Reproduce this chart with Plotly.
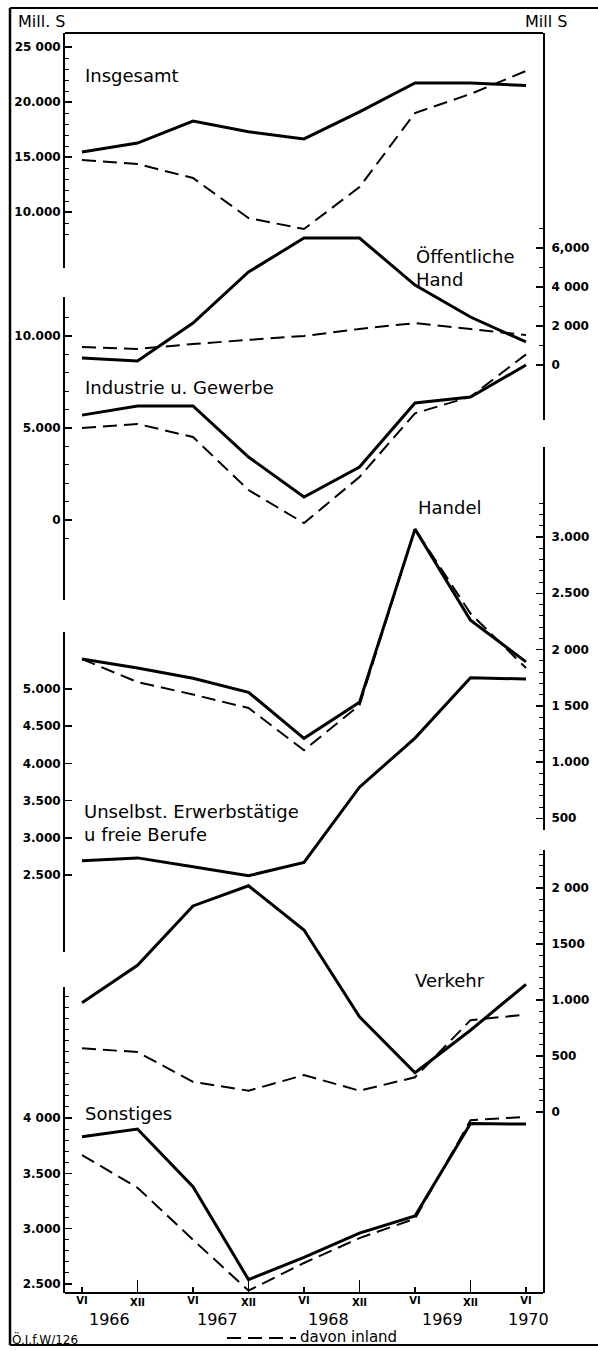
import plotly.graph_objects as go

# ---------------- data (Mill. S) ----------------
months = ["VI", "XII", "VI", "XII", "VI", "XII", "VI", "XII", "VI"]
years = ["1966", "1967", "1968", "1969", "1970"]
year_pos = [0.5, 2.45, 4.45, 6.5, 8.05]

insgesamt_total = [15450, 16270, 18270, 17300, 16640, 19100, 21730, 21730, 21500]
insgesamt_inland = [14730, 14360, 13090, 9450, 8450, 12270, 19000, 20730, 22820]

oeffentlich_total = [360, 205, 2150, 4770, 6510, 6510, 4100, 2460, 1180]
oeffentlich_inland = [920, 820, 1080, 1280, 1490, 1850, 2150, 1850, 1540]

industrie_total = [5700, 6200, 6200, 3420, 1250, 2880, 6360, 6680, 8420]
industrie_inland = [5000, 5220, 4510, 1630, -170, 2340, 5800, 6700, 9000]

handel_total = [1915, 1835, 1745, 1620, 1210, 1530, 3070, 2260, 1890]
handel_inland = [1915, 1710, 1600, 1480, 1105, 1505, 3070, 2320, 1835]

unselbst_total = [2690, 2730, 2610, 2490, 2670, 3680, 4340, 5150, 5135]

verkehr_total = [975, 1310, 1840, 2020, 1625, 850, 350, 730, 1140]
verkehr_inland = [570, 535, 270, 190, 330, 190, 310, 820, 870]

sonstiges_total = [3830, 3900, 3380, 2540, 2740, 2960, 3115, 3950, 3945]
sonstiges_inland = [3665, 3370, 2900, 2440, 2690, 2915, 3090, 3980, 4010]

xs = list(range(len(months)))

# ---------------- geometry ----------------
W, H = 598, 1351
L, R, T, B = 65, 543, 33, 1293


def px_x(px):
    return (px - L) / (R - L)


def px_y(py):
    return (B - py) / (B - T)


TICKFONT = dict(family="DejaVu Sans", size=12, color="black", weight="bold")


def yaxis_cfg(top, bot, cal, side, major, labels, minor, ticklen=7):
    (v1, p1), (v2, p2) = cal
    k = (v2 - v1) / (p2 - p1)

    def val(p):
        return v1 + (p - p1) * k

    cfg = dict(
        domain=[px_y(bot), px_y(top)],
        range=[val(bot), val(top)],
        side=side, anchor="x",
        showline=True, linecolor="black", linewidth=2,
        ticks="inside", ticklen=ticklen, tickwidth=1.5, tickcolor="black",
        tickmode="array", tickvals=major, ticktext=labels,
        minor=dict(tickmode="array", tickvals=minor, ticks="inside", ticklen=4,
                   tickcolor="black", tickwidth=1),
        showgrid=False, zeroline=False, fixedrange=True,
        tickfont=TICKFONT,
    )
    if side == "right":
        cfg["ticklabelstandoff"] = 4
    return cfg


fig = go.Figure()

SOLID = dict(color="black", width=3)
DASH = dict(color="black", width=2, dash="14px,7px")

panels = [
    ("y", insgesamt_total, insgesamt_inland),
    ("y2", oeffentlich_total, oeffentlich_inland),
    ("y3", industrie_total, industrie_inland),
    ("y4", handel_total, handel_inland),
    ("y5", unselbst_total, None),
    ("y6", verkehr_total, verkehr_inland),
    ("y7", sonstiges_total, sonstiges_inland),
]
for ax, tot, inl in panels:
    if inl is not None:
        fig.add_trace(go.Scatter(x=xs, y=inl, xaxis="x", yaxis=ax, mode="lines",
                                 line=DASH, showlegend=False, hoverinfo="skip"))
    fig.add_trace(go.Scatter(x=xs, y=tot, xaxis="x", yaxis=ax, mode="lines",
                             line=SOLID, showlegend=False, hoverinfo="skip"))

# dummy trace so the secondary x-axis (VI labels) is drawn
fig.add_trace(go.Scatter(x=[0], y=[15000], xaxis="x2", yaxis="y", mode="markers",
                         marker=dict(opacity=0), showlegend=False, hoverinfo="skip"))

xrange = [(L - 82) / 55.5, (R - 82) / 55.5]

layout_axes = dict(
    xaxis=dict(range=xrange, anchor="free", position=0, showline=True, linecolor="black",
               linewidth=2, ticks="inside", ticklen=12, tickwidth=1.5, tickcolor="black",
               tickmode="array", tickvals=[1, 3, 5, 7], ticktext=["XII"] * 4,
               showgrid=False, zeroline=False, fixedrange=True,
               tickfont=dict(family="DejaVu Sans", size=10, color="black", weight="bold")),
    xaxis2=dict(range=xrange, overlaying="x", anchor="free", position=0, showline=False,
                ticks="inside", ticklen=6, tickwidth=1.5, tickcolor="black",
                tickmode="array", tickvals=[0, 2, 4, 6, 8], ticktext=["VI"] * 5,
                showgrid=False, zeroline=False, fixedrange=True, side="bottom",
                tickfont=dict(family="DejaVu Sans", size=10, color="black", weight="bold")),
    yaxis=yaxis_cfg(33, 268, ((25000, 47), (10000, 212)), "left",
                    [25000, 20000, 15000, 10000], ["25 000", "20.000", "15.000", "10.000"],
                    list(range(8000, 26000, 1000))),
    yaxis2=yaxis_cfg(33, 420, ((6000, 248), (0, 365)), "right",
                     [6000, 4000, 2000, 0], ["6,000", "4 000", "2 000", "0"],
                     list(range(0, 8000, 1000))),
    yaxis3=yaxis_cfg(297, 600, ((10000, 336), (0, 520)), "left",
                     [10000, 5000, 0], ["10.000", "5.000", "0"],
                     list(range(-1000, 12000, 1000))),
    yaxis4=yaxis_cfg(447, 830, ((3000, 537), (1000, 762)), "right",
                     [3000, 2500, 2000, 1500, 1000, 500],
                     ["3.000", "2.500", "2 000", "1 500", "1.000", "500"],
                     list(range(500, 3400, 100))),
    yaxis5=yaxis_cfg(632, 952, ((5000, 689), (2500, 875)), "left",
                     [5000, 4500, 4000, 3500, 3000, 2500],
                     ["5.000", "4.500", "4.000", "3.500", "3.000", "2.500"], []),
    yaxis6=yaxis_cfg(850, 1293, ((2000, 888), (0, 1112)), "right",
                     [2000, 1500, 1000, 500, 0], ["2 000", "1500", "1.000", "500", "0"],
                     list(range(0, 2400, 100))),
    yaxis7=yaxis_cfg(987, 1293, ((4000, 1118), (2500, 1284)), "left",
                     [4000, 3500, 3000, 2500], ["4 000", "3.500", "3.000", "2.500"],
                     list(range(2500, 5200, 100))),
)


def note(text, x, y, size=18, xanchor="left", xref="paper", weight="normal"):
    return dict(text=text, x=x, y=y, xref=xref, yref="paper", showarrow=False,
                xanchor=xanchor, yanchor="middle", align="left", borderpad=0,
                font=dict(family="DejaVu Sans", size=size, color="black", weight=weight))


annotations = [
    note("Insgesamt", px_x(84), px_y(75)),
    note("Öffentliche<br>Hand", px_x(415), px_y(268)),
    note("Industrie u. Gewerbe", px_x(84), px_y(387)),
    note("Handel", px_x(417), px_y(507)),
    note("Unselbst. Erwerbstätige<br>u freie Berufe", px_x(83), px_y(823)),
    note("Verkehr", px_x(414), px_y(980)),
    note("Sonstiges", px_x(84), px_y(1113)),
    note("Mill. S", px_x(17), px_y(21), size=16),
    note("Mill S", px_x(524), px_y(21), size=16),
    note("davon inland", px_x(299), px_y(1337), size=15),
    note("Ö.I.f.W/126", px_x(11), px_y(1339), size=12),
]
for yr, pos in zip(years, year_pos):
    annotations.append(note(yr, pos, px_y(1319), size=16, xanchor="center", xref="x"))


def line_px(x0, y0, x1, y1, width=2, dash=None):
    return dict(type="line", xref="paper", yref="paper",
                x0=px_x(x0), y0=px_y(y0), x1=px_x(x1), y1=px_y(y1),
                line=dict(color="black", width=width, dash=dash))


shapes = [
    line_px(10, 8, 598, 8, 2),        # outer top
    line_px(10, 8, 10, 1345, 2.5),    # outer left
    line_px(10, 1345, 598, 1345, 2),  # outer bottom
    line_px(65, 33, 543, 33, 2),      # inner top
    line_px(227, 1338, 296, 1338, 2, "14px,7px"),  # legend sample
]

fig.update_layout(
    width=W, height=H,
    margin=dict(l=L, r=W - R, t=T, b=H - B, autoexpand=False),
    paper_bgcolor="white", plot_bgcolor="rgba(0,0,0,0)",
    showlegend=False,
    annotations=annotations, shapes=shapes,
    **layout_axes,
)

fig.write_html("out.html",
               config={"displayModeBar": False, "staticPlot": True},
               post_script="document.body.style.margin='0px';"
                           "document.documentElement.style.overflow='hidden';")
